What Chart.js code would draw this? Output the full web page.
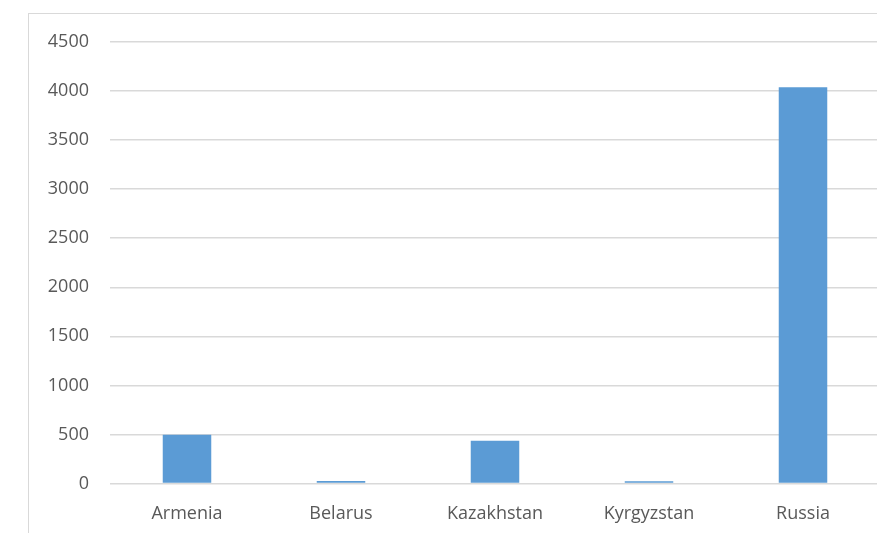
<!DOCTYPE html>
<html>
<head>
<meta charset="utf-8">
<script src="https://cdn.jsdelivr.net/npm/chart.js@4"></script>
<style>
	html, body { margin: 0; padding: 0; background: #fff; overflow: hidden; width: 877px; height: 533px; }
	.frame { position: absolute; left: 28px; top: 13px; width: 1000px; height: 1000px; border: 1px solid #d9d9d9; }
	.wrap { position: absolute; left: 0; top: 0; width: 900px; height: 533px; }
</style>
</head>
<body>
<div class="frame"></div>
<div class="wrap"><canvas id="chart" width="900" height="533"></canvas></div>
<script>
const countries = ['Armenia', 'Belarus', 'Kazakhstan', 'Kyrgyzstan', 'Russia'];
const values = [498, 25, 435, 22, 4040];
const yMax = 4500;
const yStep = 500;

const ctx = document.getElementById('chart').getContext('2d');
const chart = new Chart(ctx, {
	type: 'bar',
	data: {
		labels: countries,
		datasets: [
			{
				data: values,
				backgroundColor: '#5b9bd5',
				barPercentage: 0.63,
				categoryPercentage: 0.5,
			},
		],
	},
	options: {
		responsive: false,
		animation: false,
		layout: {
			padding: { left: 0, right: 20, top: 42, bottom: 0 },
		},
		plugins: {
			legend: { display: false },
			tooltip: { enabled: false },
		},
		scales: {
			x: {
				grid: { display: false },
				border: { display: false },
				ticks: {
					color: '#595959',
					font: { family: 'Open Sans', size: 18 },
					padding: 12,
					maxRotation: 0,
				},
				afterFit: function (axis) {
					axis.height = 49.5;
				},
			},
			y: {
				min: 0,
				max: yMax,
				grid: { color: '#d9d9d9', lineWidth: 1.5, drawTicks: false },
				border: { display: false },
				ticks: {
					stepSize: yStep,
					color: '#595959',
					font: { family: 'Open Sans', size: 18 },
					padding: 21,
					callback: (v) => String(v),
				},
				afterFit: function (axis) {
					axis.width = 110;
				},
			},
		},
	},
});
</script>
</body>
</html>
